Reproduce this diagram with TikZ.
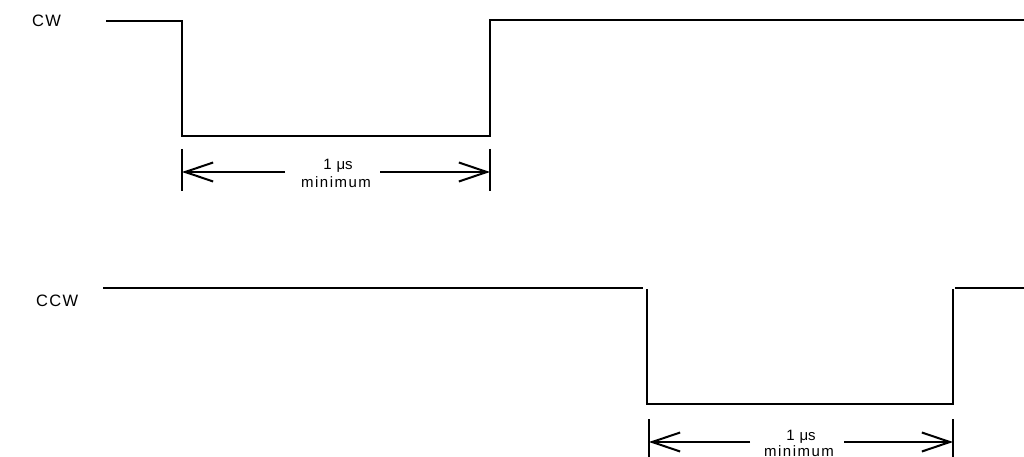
\documentclass[tikz,border=0pt]{standalone}
\usepackage{fontspec}
\setmainfont{Liberation Sans}
\usetikzlibrary{arrows.meta}
\begin{document}
\begin{tikzpicture}[x=1pt,y=-1pt,
  sig/.style={line width=2pt},
  tick/.style={line width=2pt},
  dimarrow/.style={line width=2pt,-{Straight Barb[length=28pt,width=19pt,line width=2pt]}},
  lbl/.style={inner sep=0pt,font=\fontsize{16.5}{18}\selectfont\addfontfeature{LetterSpace=8}},
  dimtxt/.style={inner sep=0pt,anchor=base,font=\fontsize{15}{17}\selectfont},
  dimtxtb/.style={inner sep=0pt,anchor=base,font=\fontsize{15}{17}\selectfont\addfontfeature{LetterSpace=10}}]
\useasboundingbox (0,0) rectangle (1024,457);
% labels
\node[lbl,anchor=west] (cw) at (32,21) {CW};
\node[lbl,anchor=west] (ccw) at (36,301) {CCW};
% CW waveform
\coordinate (a0) at (106,21);
\coordinate (a1) at (182,21);
\coordinate (a2) at (182,136);
\coordinate (a3) at (490,136);
\coordinate (a4) at (490,20);
\coordinate (a5) at (1024,20);
\draw[sig] (a0) -- (a1) -- (a2) -- (a3) -- (a4) -- (a5);
% CW dimension
\coordinate (t1a) at (182,149);
\coordinate (t1b) at (182,191);
\coordinate (t2a) at (490,149);
\coordinate (t2b) at (490,191);
\draw[tick] (t1a) -- (t1b);
\draw[tick] (t2a) -- (t2b);
\coordinate (d1l) at (285,172);
\coordinate (d1r) at (380,172);
\coordinate (d1s) at (182,172);
\coordinate (d1e) at (490,172);
\draw[dimarrow] (d1l) -- (d1s);
\draw[dimarrow] (d1r) -- (d1e);
\node[dimtxt] (us1) at (338,170) {1\hspace{5pt}μs};
\node[dimtxtb] (min1) at (336,187) {minimum};
% CCW waveform
\coordinate (b0) at (103,288);
\coordinate (b1) at (643,288);
\coordinate (b2) at (647,289);
\coordinate (b3) at (647,404);
\coordinate (b4) at (953,404);
\coordinate (b5) at (953,289);
\coordinate (b6) at (955,288);
\coordinate (b7) at (1024,288);
\draw[sig] (b0) -- (b1);
\draw[sig] (b2) -- (b3) -- (b4) -- (b5);
\draw[sig] (b6) -- (b7);
% CCW dimension
\coordinate (t3a) at (649,419);
\coordinate (t3b) at (649,457);
\coordinate (t4a) at (953,419);
\coordinate (t4b) at (953,457);
\draw[tick] (t3a) -- (t3b);
\draw[tick] (t4a) -- (t4b);
\coordinate (d2l) at (750,442);
\coordinate (d2r) at (844,442);
\coordinate (d2s) at (649,442);
\coordinate (d2e) at (953,442);
\draw[dimarrow] (d2l) -- (d2s);
\draw[dimarrow] (d2r) -- (d2e);
\node[dimtxt] (us2) at (801,440) {1\hspace{5pt}μs};
\node[dimtxtb] (min2) at (799,456) {minimum};
\end{tikzpicture}
\end{document}
